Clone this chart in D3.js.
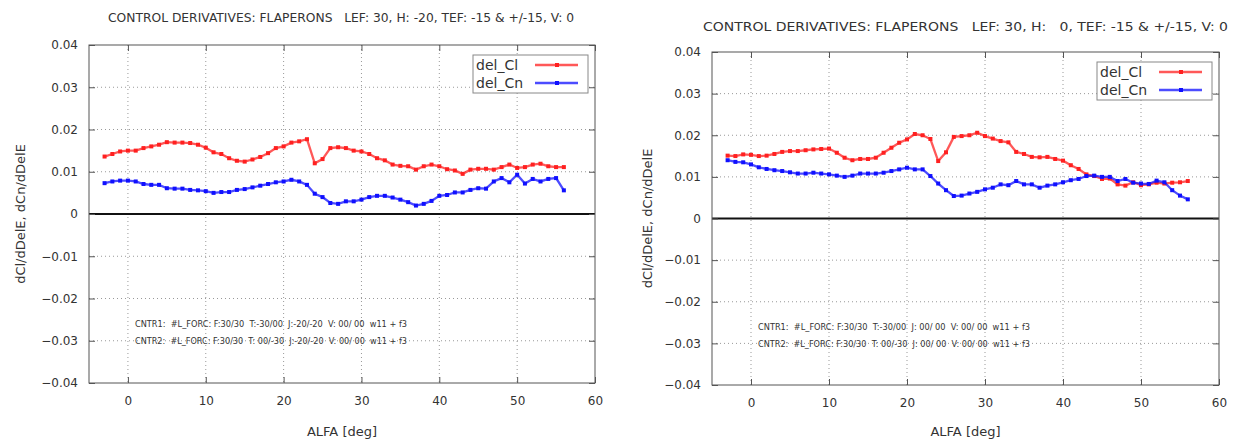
<!DOCTYPE html>
<html>
<head>
<meta charset="utf-8">
<script src="https://cdn.jsdelivr.net/npm/d3@7"></script>
<style>
  body { margin: 0; background: #fff; }
  svg text { font-family: "DejaVu Sans", sans-serif; fill: #333; white-space: pre; }
  .grid line { stroke: #999; stroke-dasharray: 1,3; }
</style>
</head>
<body>
<svg id="chart" width="1235" height="441"></svg>
<script>
// angle of attack, shared by both panels
var alfa = [-3,-2,-1,0,1,2,3,4,5,6,7,8,9,10,11,12,13,14,15,16,17,18,19,20,21,22,23,24,25,26,
            27,28,29,30,31,32,33,34,35,36,37,38,39,40,41,42,43,44,45,46,47,48,49,50,51,52,53,54,55,56];

// left panel: H = -20
var leftCl = [0.0136,0.0142,0.0148,0.0150,0.0150,0.0156,0.0160,0.0164,0.0170,0.0169,0.0169,0.0168,0.0164,0.0157,0.0146,
              0.0142,0.0132,0.0126,0.0124,0.0129,0.0135,0.0144,0.0156,0.0160,0.0169,0.0172,0.0177,0.0120,0.0130,0.0156,
              0.0158,0.0156,0.0150,0.0148,0.0142,0.0132,0.0127,0.0117,0.0114,0.0113,0.0105,0.0113,0.0117,0.0113,0.0106,
              0.0103,0.0095,0.0105,0.0107,0.0107,0.0105,0.0111,0.0117,0.0109,0.0111,0.0117,0.0119,0.0113,0.0111,0.0111];
var leftCn = [0.0073,0.0077,0.0079,0.0079,0.0077,0.0071,0.0069,0.0069,0.0061,0.0060,0.0060,0.0057,0.0056,0.0054,0.0050,
              0.0052,0.0052,0.0057,0.0059,0.0063,0.0067,0.0071,0.0075,0.0077,0.0081,0.0077,0.0069,0.0048,0.0040,0.0026,
              0.0024,0.0030,0.0030,0.0034,0.0040,0.0043,0.0043,0.0039,0.0034,0.0028,0.0020,0.0024,0.0031,0.0043,0.0045,
              0.0051,0.0051,0.0057,0.0061,0.0060,0.0077,0.0085,0.0075,0.0093,0.0072,0.0083,0.0077,0.0083,0.0085,0.0056];

// right panel: H = 0
var rightCl = [0.0151,0.0150,0.0154,0.0153,0.0150,0.0151,0.0155,0.0160,0.0162,0.0162,0.0164,0.0166,0.0167,0.0168,0.0158,
               0.0146,0.0140,0.0143,0.0143,0.0146,0.0158,0.0170,0.0182,0.0190,0.0203,0.0200,0.0191,0.0138,0.0159,0.0196,
               0.0198,0.0200,0.0206,0.0198,0.0192,0.0186,0.0183,0.0160,0.0155,0.0148,0.0147,0.0148,0.0143,0.0139,0.0128,
               0.0119,0.0106,0.0102,0.0095,0.0096,0.0082,0.0079,0.0087,0.0080,0.0082,0.0086,0.0084,0.0086,0.0087,0.0090];
var rightCn = [0.0140,0.0136,0.0135,0.0130,0.0123,0.0119,0.0116,0.0114,0.0111,0.0108,0.0108,0.0110,0.0108,0.0106,0.0103,
               0.0100,0.0103,0.0108,0.0108,0.0108,0.0110,0.0114,0.0118,0.0122,0.0118,0.0118,0.0102,0.0084,0.0068,0.0054,
               0.0055,0.0060,0.0064,0.0070,0.0074,0.0082,0.0080,0.0090,0.0082,0.0082,0.0074,0.0079,0.0082,0.0087,0.0092,
               0.0095,0.0102,0.0103,0.0100,0.0100,0.0090,0.0095,0.0086,0.0084,0.0083,0.0091,0.0087,0.0068,0.0055,0.0046];

var xTicks = [0, 10, 20, 30, 40, 50, 60];
var yTicks = [-0.04, -0.03, -0.02, -0.01, 0, 0.01, 0.02, 0.03, 0.04];
var seriesNames = ["del_Cl", "del_Cn"];
var seriesColors = ["#ff2020", "#1010ff"];

var leftTitle = "CONTROL DERIVATIVES: FLAPERONS   LEF: 30, H: -20, TEF: -15 & +/-15, V: 0";
var rightTitle = "CONTROL DERIVATIVES: FLAPERONS   LEF: 30, H:   0, TEF: -15 & +/-15, V: 0";
var leftNotes = ["CNTR1:  #L_FORC: F:30/30  T:-30/00  J:-20/-20  V: 00/ 00  w11 + f3",
                 "CNTR2:  #L_FORC: F:30/30  T: 00/-30  J:-20/-20  V: 00/ 00  w11 + f3"];
var rightNotes = ["CNTR1:  #L_FORC: F:30/30  T:-30/00  J: 00/ 00  V: 00/ 00  w11 + f3",
                  "CNTR2:  #L_FORC: F:30/30  T: 00/-30  J: 00/ 00  V: 00/ 00  w11 + f3"];

var svg = d3.select("#chart");

function drawPanel(p) {
    var x = d3.scaleLinear().domain([-5, 60]).range([p.left, p.right]);
    var y = d3.scaleLinear().domain([-0.04, 0.04]).range([p.bottom, p.top]);
    var g = svg.append("g");

    // dotted grid
    var grid = g.append("g").attr("class", "grid");
    grid.selectAll(".gx").data(xTicks.filter(function (d) { return d < 60; }))
        .enter().append("line")
        .attr("x1", function (d) { return x(d); }).attr("x2", function (d) { return x(d); })
        .attr("y1", p.top).attr("y2", p.bottom);
    grid.selectAll(".gy").data(yTicks.filter(function (d) { return d > -0.04 && d < 0.04 && d !== 0; }))
        .enter().append("line")
        .attr("x1", p.left).attr("x2", p.right)
        .attr("y1", function (d) { return y(d); }).attr("y2", function (d) { return y(d); });

    // zero line
    g.append("line")
        .attr("x1", p.left).attr("x2", p.right)
        .attr("y1", y(0)).attr("y2", y(0))
        .attr("stroke", "#111").attr("stroke-width", 2);

    // border with inward ticks (mirrored, gnuplot style)
    g.append("rect")
        .attr("x", p.left).attr("y", p.top)
        .attr("width", p.right - p.left).attr("height", p.bottom - p.top)
        .attr("fill", "none").attr("stroke", "#555").attr("stroke-width", 1);

    var ax = d3.axisBottom(x).tickValues(xTicks).tickSize(-6).tickPadding(13).tickFormat(d3.format("d"));
    var axB = g.append("g").attr("transform", "translate(0," + p.bottom + ")").call(ax);
    var axT = g.append("g").attr("transform", "translate(0," + p.top + ")")
        .call(d3.axisTop(x).tickValues(xTicks).tickSize(-6).tickFormat(""));
    var ay = d3.axisLeft(y).tickValues(yTicks).tickSize(-6).tickPadding(11)
        .tickFormat(function (d) { return d === 0 ? "0" : d3.format(".2f")(d); });
    var axL = g.append("g").attr("transform", "translate(" + p.left + ",0)").call(ay);
    var axR = g.append("g").attr("transform", "translate(" + p.right + ",0)")
        .call(d3.axisRight(y).tickValues(yTicks).tickSize(-6).tickFormat(""));
    [axB, axT, axL, axR].forEach(function (a) {
        a.select(".domain").remove();
        a.selectAll(".tick line").attr("stroke", "#555");
        a.selectAll(".tick text").attr("font-size", 12).style("fill", "#333");
    });

    // series
    var line = d3.line()
        .x(function (d, i) { return x(alfa[i]); })
        .y(function (d) { return y(d); });
    [p.cl, p.cn].forEach(function (vals, k) {
        g.append("path").datum(vals)
            .attr("d", line)
            .attr("fill", "none")
            .attr("stroke", seriesColors[k])
            .attr("stroke-opacity", 0.75)
            .attr("stroke-width", 2.3);
        g.selectAll(".pt" + k).data(vals).enter().append("rect")
            .attr("x", function (d, i) { return x(alfa[i]) - 2; })
            .attr("y", function (d) { return y(d) - 2; })
            .attr("width", 4).attr("height", 4)
            .attr("fill", seriesColors[k]);
    });

    // legend
    var lg = g.append("g");
    lg.append("rect")
        .attr("x", p.legend[0]).attr("y", p.legend[1])
        .attr("width", 115).attr("height", 38)
        .attr("fill", "#fff").attr("stroke", "#888");
    seriesNames.forEach(function (name, k) {
        var ly = p.legend[1] + 10 + k * 18;
        lg.append("text")
            .attr("x", p.legend[0] + 3).attr("y", ly + 5)
            .attr("font-size", 14).text(name);
        lg.append("line")
            .attr("x1", p.legend[0] + 62).attr("x2", p.legend[0] + 105)
            .attr("y1", ly).attr("y2", ly)
            .attr("stroke", seriesColors[k]).attr("stroke-opacity", 0.75).attr("stroke-width", 2.3);
        lg.append("rect")
            .attr("x", p.legend[0] + 82).attr("y", ly - 2)
            .attr("width", 4).attr("height", 4)
            .attr("fill", seriesColors[k]);
    });

    // run notes
    p.notes.forEach(function (t, k) {
        g.append("text")
            .attr("x", p.noteX).attr("y", p.noteY + k * 17)
            .attr("font-size", 8)
            .attr("textLength", 272).attr("lengthAdjust", "spacingAndGlyphs")
            .text(t);
    });

    // title and axis labels
    g.append("text")
        .attr("x", p.titleX).attr("y", p.titleY)
        .attr("font-size", p.titleSize)
        .attr("textLength", p.titleLen).attr("lengthAdjust", "spacingAndGlyphs")
        .text(p.title);
    g.append("text")
        .attr("x", (p.left + p.right) / 2).attr("y", 436)
        .attr("text-anchor", "middle").attr("font-size", 13)
        .text("ALFA [deg]");
    g.append("text")
        .attr("transform", "translate(" + p.ylabX + "," + y(0) + ") rotate(-90)")
        .attr("text-anchor", "middle").attr("font-size", 13)
        .text("dCl/dDelE, dCn/dDelE");
}

drawPanel({ left: 89, right: 595, top: 45, bottom: 383, cl: leftCl, cn: leftCn,
            legend: [473, 55], notes: leftNotes, noteX: 135, noteY: 327,
            title: leftTitle, titleX: 108, titleY: 22, titleLen: 466, titleSize: 12, ylabX: 25 });
drawPanel({ left: 712, right: 1219, top: 52, bottom: 385, cl: rightCl, cn: rightCn,
            legend: [1097, 62], notes: rightNotes, noteX: 758, noteY: 330,
            title: rightTitle, titleX: 703, titleY: 31, titleLen: 525, titleSize: 13, ylabX: 652 });
</script>
</body>
</html>
